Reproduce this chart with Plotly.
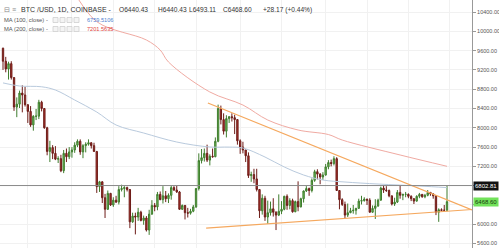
import pandas as pd
import plotly.graph_objects as go

# ---------------- data ----------------
dates = pd.date_range("2018-05-07", "2018-10-15", freq="D")

opens = [
 9650, 9380, 9220, 9330, 9040, 8430, 8490, 8720, 8680, 8480, 8340, 8060, 8240, 8240, 8530, 8400, 8000, 7510, 7590, 7470, 7350, 7360, 7110, 7470, 7400,
 7500, 7540, 7640, 7720, 7500, 7630, 7660, 7690, 7630, 7510, 6780, 6880, 6550, 6310, 6640, 6400, 6500, 6460, 6720, 6740, 6760, 6720, 6050, 6170, 6150, 6250, 6080, 6130, 5880, 6210,
 6390, 6360, 6620, 6510, 6590, 6530, 6600, 6760, 6710, 6670, 6310, 6390, 6240, 6230, 6270, 6360, 6740, 7320, 7380, 7470, 7330, 7410, 7400, 7720, 8400, 8170, 7930, 8190, 8230, 8210, 8170,
 7730, 7600, 7540, 7420, 7010, 7030, 6940, 6720, 6280, 6540, 6150, 6240, 6320, 6250, 6190, 6270, 6310, 6580, 6390, 6490, 6260, 6470, 6360, 6530, 6690, 6740, 6700, 6910, 7090, 7040, 6980,
 7020, 7190, 7280, 7260, 7360, 6700, 6510, 6410, 6190, 6240, 6280, 6290, 6330, 6480, 6490, 6520, 6500, 6250, 6330, 6380, 6500, 6750, 6710, 6700, 6590, 6420, 6460, 6660, 6600, 6620,
 6620, 6580, 6530, 6480, 6580, 6620, 6570, 6600, 6660, 6630, 6590, 6250, 6300, 6290, 6290]
highs = [
 9660, 9470, 9370, 9380, 9050, 8630, 8770, 8880, 8850, 8480, 8450, 8260, 8390, 8580, 8560, 8410, 8020, 7730, 7640, 7620, 7410, 7440, 7540, 7570, 7600,
 7600, 7700, 7760, 7760, 7660, 7700, 7760, 7700, 7690, 7510, 6900, 6890, 6630, 6700, 6650, 6560, 6590, 6790, 6820, 6790, 6780, 6730, 6240, 6240, 6340, 6280, 6180, 6170, 6300, 6500,
 6440, 6670, 6680, 6790, 6690, 6640, 6800, 6790, 6800, 6690, 6410, 6400, 6340, 6320, 6400, 6750, 7470, 7560, 7570, 7650, 7450, 7570, 7800, 8480, 8460, 8300, 8260, 8240, 8300, 8270, 8180,
 7760, 7710, 7540, 7490, 7090, 7150, 7150, 6730, 6620, 6590, 6490, 6470, 6540, 6270, 6620, 6480, 6590, 6620, 6540, 6530, 6490, 6890, 6550, 6700, 6790, 6760, 6950, 7130, 7140, 7060, 7080,
 7250, 7330, 7340, 7410, 7390, 6710, 6540, 6470, 6430, 6340, 6400, 6340, 6530, 6590, 6560, 6530, 6540, 6390, 6520, 6530, 6780, 6810, 6790, 6720, 6590, 6550, 6710, 6800, 6630, 6670,
 6640, 6600, 6540, 6600, 6650, 6620, 6630, 6710, 6670, 6640, 6600, 6330, 6330, 6400, 6802.81]
lows = [
 9200, 9150, 9000, 9000, 8350, 8220, 8410, 8320, 8440, 8100, 8020, 7940, 8160, 8180, 8340, 7980, 7430, 7290, 7350, 7330, 7270, 7080, 7060, 7290, 7350,
 7380, 7480, 7600, 7440, 7370, 7490, 7630, 7570, 7500, 6650, 6670, 6440, 6130, 6300, 6380, 6360, 6440, 6410, 6680, 6560, 6680, 5920, 6030, 5790, 6070, 6060, 5990, 5850, 5780, 6200,
 6270, 6290, 6500, 6430, 6460, 6440, 6510, 6690, 6650, 6300, 6300, 6100, 6140, 6200, 6250, 6340, 6700, 7260, 7300, 7290, 7220, 7380, 7390, 7700, 8070, 7860, 7800, 8100, 8130, 7870, 7650,
 7460, 7470, 7290, 6960, 6880, 6850, 6680, 6130, 6200, 6070, 6010, 6180, 6160, 5880, 6170, 6210, 6290, 6300, 6310, 6240, 6250, 6270, 6350, 6450, 6670, 6590, 6660, 6880, 6930, 6830, 6920,
 7010, 7140, 7200, 7220, 6700, 6310, 6380, 6130, 6150, 6230, 6220, 6200, 6320, 6410, 6470, 6400, 6240, 6240, 6110, 6360, 6490, 6650, 6670, 6560, 6390, 6380, 6440, 6530, 6500, 6560,
 6540, 6480, 6420, 6470, 6540, 6550, 6540, 6580, 6590, 6530, 6190, 6050, 6270, 6270, 6270]
closes = [
 9380, 9220, 9330, 9040, 8430, 8490, 8720, 8680, 8480, 8340, 8060, 8240, 8240, 8530, 8400, 8000, 7510, 7590, 7470, 7350, 7360, 7110, 7470, 7400, 7500,
 7540, 7640, 7720, 7500, 7630, 7660, 7690, 7630, 7510, 6780, 6880, 6550, 6310, 6640, 6400, 6500, 6460, 6720, 6740, 6760, 6720, 6050, 6170, 6150, 6250, 6080, 6130, 5880, 6210, 6390,
 6360, 6620, 6510, 6590, 6530, 6600, 6760, 6710, 6670, 6310, 6390, 6240, 6230, 6270, 6360, 6740, 7320, 7380, 7470, 7330, 7410, 7400, 7720, 8400, 8170, 7930, 8190, 8230, 8210, 8170, 7730,
 7600, 7540, 7420, 7010, 7030, 6940, 6720, 6280, 6540, 6150, 6240, 6320, 6250, 6190, 6270, 6310, 6580, 6390, 6490, 6260, 6470, 6360, 6530, 6690, 6740, 6700, 6910, 7090, 7040, 6980, 7020,
 7190, 7280, 7260, 7360, 6700, 6510, 6410, 6190, 6240, 6280, 6290, 6330, 6480, 6490, 6520, 6500, 6250, 6330, 6380, 6500, 6750, 6710, 6700, 6590, 6420, 6460, 6660, 6600, 6620, 6620,
 6580, 6530, 6480, 6580, 6620, 6570, 6600, 6660, 6630, 6590, 6250, 6300, 6290, 6290, 6468.60]

ma100_dates = ["2018-05-07", "2018-05-13", "2018-05-21", "2018-05-26", "2018-06-02", "2018-06-10",
               "2018-06-17", "2018-06-27", "2018-07-09", "2018-07-21", "2018-07-28", "2018-08-02",
               "2018-08-10", "2018-08-17", "2018-08-24", "2018-08-31", "2018-09-08", "2018-09-20",
               "2018-10-05", "2018-10-15"]
ma100_vals = [8930, 8866, 8850, 8783, 8576, 8327, 8058, 7892, 7705, 7602, 7600, 7581,
              7394, 7187, 7021, 6917, 6876, 6834, 6793, 6759.51]

ma200_dates = ["2018-06-01", "2018-06-10", "2018-06-28", "2018-07-03", "2018-07-06", "2018-07-21",
               "2018-08-02", "2018-08-11", "2018-08-22", "2018-09-02", "2018-09-07", "2018-09-28",
               "2018-10-15"]
ma200_vals = [10900, 10200, 9820, 9612, 9364, 8742, 8472, 8161, 7954, 7860, 7746, 7436, 7201.56]

upper_trend_dates = ["2018-07-20 07:00", "2018-10-24 01:30"]
upper_trend_vals = [8514, 6296]
lower_trend_dates = ["2018-07-19 16:00", "2018-10-24 01:30"]
lower_trend_vals = [5922, 6306]

high_line = 6802.81
last_close = 6468.60

y_ticks = [5600, 6000, 6400, 6800, 7200, 7600, 8000, 8400, 8800, 9200, 9600, 10000, 10400]
y_tick_labels = ["5600.00", "6000.00", "", "", "7200.00", "7600.00", "8000.00", "8400.00",
                 "8800.00", "9200.00", "9600.00", "10000.00", "10400.00"]
x_grid = ["2018-05-16", "2018-06-01", "2018-06-16", "2018-07-01", "2018-07-16", "2018-08-01",
          "2018-08-16", "2018-09-01", "2018-09-16", "2018-10-01", "2018-10-16"]

# ---------------- figure ----------------
W, H = 499, 248
PW = 472  # plot width in px

fig = go.Figure()

fig.add_trace(go.Scatter(x=ma100_dates, y=ma100_vals, mode="lines",
                         line=dict(color="#b9cadd", width=1, shape="spline", smoothing=1.0),
                         hoverinfo="skip", showlegend=False))
fig.add_trace(go.Scatter(x=ma200_dates, y=ma200_vals, mode="lines",
                         line=dict(color="#f0aaa2", width=1, shape="spline", smoothing=1.0),
                         hoverinfo="skip", showlegend=False))

fig.add_trace(go.Candlestick(
    x=dates, open=opens, high=highs, low=lows, close=closes,
    increasing=dict(line=dict(color="#3f7d2e", width=1), fillcolor="#74c25a"),
    decreasing=dict(line=dict(color="#6d1c18", width=1), fillcolor="#b3322c"),
    whiskerwidth=0, showlegend=False))

fig.add_trace(go.Scatter(x=upper_trend_dates, y=upper_trend_vals, mode="lines",
                         line=dict(color="#f5a85e", width=1.2), hoverinfo="skip", showlegend=False))
fig.add_trace(go.Scatter(x=lower_trend_dates, y=lower_trend_vals, mode="lines",
                         line=dict(color="#f5a85e", width=1.2), hoverinfo="skip", showlegend=False))

# horizontal high line
fig.add_shape(type="line", xref="paper", x0=0, x1=1, yref="y", y0=high_line, y1=high_line,
              line=dict(color="#8a8a8a", width=1))

# price labels on the axis
fig.add_annotation(xref="paper", x=473 / PW, yref="y", y=high_line, xanchor="left", yanchor="middle",
                   text=f"{high_line:.2f}", showarrow=False, bgcolor="#111111",
                   font=dict(color="white", size=6, family="Liberation Sans"), borderpad=1)
fig.add_annotation(xref="paper", x=473 / PW, yref="y", y=last_close, xanchor="left", yanchor="middle",
                   text=f"{last_close:.2f}", showarrow=False, bgcolor="#72e25a",
                   font=dict(color="#1a3a10", size=6, family="Liberation Sans"), borderpad=1)

# header texts
def txt(x, y, s, size, color, bold=False):
    fig.add_annotation(xref="paper", yref="paper", x=x / PW, y=1 - y / H, xanchor="left",
                       yanchor="middle", text=(f"<b>{s}</b>" if bold else s), showarrow=False,
                       font=dict(size=size, color=color, family="Liberation Sans"))

txt(2, 10, "⊟ ≡", 7, "#888888")
txt(19, 10, "BTC /USD, 1D, COINBASE -", 7, "#333333")
txt(117, 10, "O6440.43", 6.6, "#333333")
txt(156, 10, "H6440.43", 6.6, "#333333")
txt(187, 10, "L6493.11", 6.6, "#333333")
txt(221, 10, "C6468.60", 6.6, "#333333")
txt(261, 10, "+28.17 (+0.44%)", 6.6, "#333333")
txt(2, 20, "MA (100, close) -", 5.8, "#555555")
txt(2, 29, "MA (200, close) -", 5.8, "#555555")
txt(85, 20, "6759.5106", 5.6, "#4f7fcf")
txt(85, 29, "7201.5635", 5.6, "#e0453c")
for row_y in (20, 29):
    for bx in (53, 60, 67, 74):
        fig.add_shape(type="rect", xref="paper", yref="paper",
                      x0=bx / PW, x1=(bx + 5) / PW, y0=1 - (row_y + 2.5) / H, y1=1 - (row_y - 2.5) / H,
                      line=dict(color="#cfcfcf", width=0.8), fillcolor="#f4f4f4")

fig.update_layout(
    width=W, height=H,
    margin=dict(l=0, r=W - PW, t=0, b=0),
    paper_bgcolor="white", plot_bgcolor="white",
    xaxis=dict(type="date", range=["2018-05-05 21:53", "2018-10-24 01:34"],
               rangeslider=dict(visible=False), showticklabels=False,
               tickmode="array", tickvals=x_grid, showgrid=True, gridcolor="#f1f1f1",
               gridwidth=1, zeroline=False, showline=False, ticks=""),
    yaxis=dict(side="right", range=[5508, 10649], tickmode="array", tickvals=y_ticks,
               ticktext=y_tick_labels, showgrid=True, gridcolor="#f1f1f1",
               zeroline=False, showline=True, linecolor="#999999", linewidth=1,
               ticks="outside", ticklen=3, tickcolor="#999999",
               tickfont=dict(size=5.5, color="#555555", family="Liberation Sans")),
    showlegend=False,
)

fig.write_html("out.html")
